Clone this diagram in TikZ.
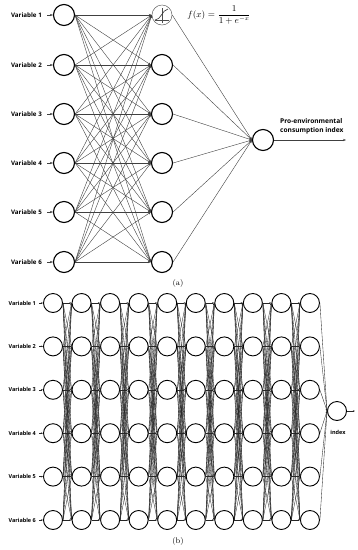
\documentclass[tikz,border=0pt]{standalone}
\usepackage{fontspec}
\setsansfont{Open Sans}
\usetikzlibrary{arrows.meta}
\begin{document}
\begin{tikzpicture}[x=1pt,y=-1pt,
 neuron/.style={circle,draw,line width=1.1pt,minimum size=21pt,inner sep=0pt},
 bneuron/.style={circle,draw,line width=0.9pt,minimum size=19pt,inner sep=0pt},
 signeuron/.style={circle,draw=black!60,line width=0.5pt,minimum size=20pt,inner sep=0pt},
 conn/.style={draw=black!75,line width=0.4pt,-{Stealth[length=3pt,width=2.2pt]}},
 bconn/.style={draw=black!85,line width=0.35pt,-{Stealth[length=2.2pt,width=1.6pt]}},
 varlab/.style={font=\sffamily\bfseries\fontsize{6.2}{7}\selectfont,anchor=east,inner sep=0pt},
 bvarlab/.style={font=\sffamily\bfseries\fontsize{5.5}{6}\selectfont,anchor=east,inner sep=0pt},
 caption/.style={font=\fontsize{8}{9}\selectfont,inner sep=0pt}]
\useasboundingbox (0,0) rectangle (358,550);
% ---------- (a) ----------
\foreach \i/\y in {1/15,2/65,3/114,4/163,5/212,6/262} {
  \node[neuron] (a\i) at (64,\y) {};
  \node[varlab] (lab\i) at (42,\y) {Variable \i};
  \coordinate (in\i) at (47,\y);
  \draw[conn] (in\i) -- (a\i);
}
\node[signeuron] (h1) at (162,15) {};
\foreach \i/\y in {2/65,3/114,4/163,5/212,6/262} {
  \node[neuron] (h\i) at (162,\y) {};
}
% sigmoid glyph
\draw[black!70,line width=0.4pt] (155,20) -- (169,20) (162,23) -- (162,8);
\draw[black!80,line width=0.6pt] (155,20) .. controls (161,20) and (162,10) .. (168,9);
\foreach \i in {1,...,6} {
  \foreach \j in {1,...,6} {
    \draw[conn] (a\i.east) -- (h\j.west);
  }
}
\node[neuron] (o) at (263,140) {};
\foreach \j in {1,...,6} { \draw[conn] (h\j.east) -- (o.west); }
\coordinate (oend) at (346,140);
\draw[conn] (o) -- (oend);
\node[font=\sffamily\bfseries\fontsize{6.6}{8.5}\selectfont,align=left,anchor=south west,inner sep=0pt] (olab) at (280,134) {Pro-environmental\\consumption index};
\node[font=\fontsize{9}{10}\selectfont,inner sep=0pt] (fx) at (219,15) {$f(x)=\displaystyle\frac{1}{1+e^{-x}}$};
\node[caption] (capa) at (178,283) {(a)};
% ---------- (b) ----------
\foreach \k in {1,...,10} {
  \foreach \i in {1,...,6} {
    \pgfmathsetmacro{\xx}{53+28.55*(\k-1)}
    \pgfmathsetmacro{\yy}{303+43.4*(\i-1)}
    \node[bneuron] (b\k-\i) at (\xx,\yy) {};
  }
}
\foreach \i in {1,...,6} {
  \pgfmathsetmacro{\yy}{303+43.4*(\i-1)}
  \node[bvarlab] (blab\i) at (36,\yy) {Variable \i};
  \coordinate (bin\i) at (39,\yy);
  \draw[bconn] (bin\i) -- (b1-\i);
}
\foreach \k [evaluate=\k as \kn using int(\k+1)] in {1,...,9} {
  \foreach \i in {1,...,6} {
    \foreach \j in {1,...,6} {
      \draw[bconn] (b\k-\i.east) -- (b\kn-\j.west);
    }
  }
}
\node[bneuron] (ob) at (337,411) {};
\foreach \i in {1,...,6} { \draw[bconn] (b10-\i.east) -- (ob.west); }
\coordinate (obend) at (355,411);
\draw[bconn] (ob) -- (obend);
\node[font=\sffamily\bfseries\fontsize{5.5}{6}\selectfont,inner sep=0pt] (oblab) at (338,432) {index};
\node[caption] (capb) at (178,541) {(b)};
\end{tikzpicture}
\end{document}
